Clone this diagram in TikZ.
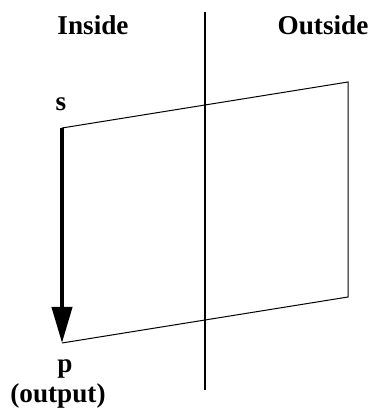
\documentclass[tikz,border=0pt]{standalone}
\usepackage{fontspec}
\setmainfont{Liberation Serif}
\usetikzlibrary{arrows.meta, positioning}

\begin{document}
\begin{tikzpicture}[
    x=0.5pt, y=0.5pt,
    label/.style={
        font=\fontsize{13.6}{16}\selectfont\bfseries,
        inner sep=0pt,
        anchor=base
    },
    side/.style={draw=black, line width=0.5pt},
    divider/.style={draw=black, line width=1pt},
    flow/.style={-{Triangle[length=18pt, width=10pt]}, line width=2pt, draw=black}
]
    \useasboundingbox (0,0) rectangle (373,417);

    \coordinate (top) at (205,405);
    \coordinate (bot) at (205,27);
    \coordinate (sc) at (62,289);
    \coordinate (tr) at (348,335);
    \coordinate (br) at (348,120);
    \coordinate (pc) at (62,74);

    \node[label] (ins) at (93,382) {Inside};
    \node[label] (out) at (323,382) {Outside};
    \node[label] (s) at (61,306) {s};
    \node[label] (p) at (65,44) {p};
    \node[label] (outp) at (58,14) {(output)};

    \draw[divider] (top) -- (bot);
    \draw[side] (sc) -- (tr) -- (br) -- (pc);
    \draw[flow] (sc) -- (pc);
\end{tikzpicture}
\end{document}
